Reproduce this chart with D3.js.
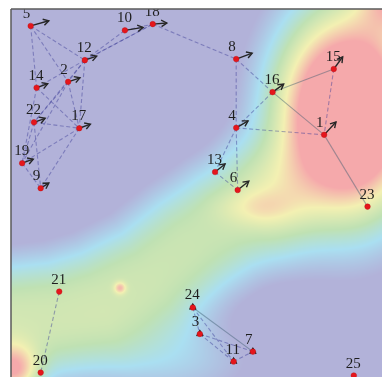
<!DOCTYPE html>
<html>
<head>
<meta charset="utf-8">
<script src="https://cdn.jsdelivr.net/npm/d3@7"></script>
<style>
  html, body { margin: 0; padding: 0; background: #fff; }
  #wrap { position: relative; width: 382px; height: 377px; overflow: hidden; }
  #wrap canvas, #wrap svg { position: absolute; left: 0; top: 0; }
</style>
</head>
<body>
<div id="wrap"></div>
<script>
// ---- nodes (data units, 0..100 on both axes) ----
const nodeIds = [1, 2, 3, 4, 5, 6, 7, 8, 9, 10, 11, 12, 13, 14, 15, 16, 17, 18, 19, 20, 21, 22, 23, 24, 25];
const nodeX   = [84.4, 15.4, 50.9, 60.7, 5.3, 61.1, 65.2, 60.7, 8.0, 30.7, 60.0, 19.9, 55.0, 6.9, 87.0, 70.5, 18.4, 38.2, 3.0, 8.0, 13.0, 6.2, 96.1, 49.0, 92.4];
const nodeY   = [34.2, 19.8, 88.3, 32.3, 4.6, 49.2, 93.1, 13.6, 48.7, 5.8, 95.8, 13.9, 44.3, 21.4, 16.3, 22.6, 32.4, 4.1, 41.9, 98.8, 76.8, 30.8, 53.7, 81.1, 99.6];
// direction vectors drawn as arrows from each node
const vecX    = [3.2, 3.2, 0, 3.2, 4.9, 3.0, 0, 4.3, 2.2, 4.9, 0, 3.2, 2.7, 3.0, 2.4, 3.0, 3.0, 3.8, 3.0, 0, 0, 3.0, 0, 0, 0];
const vecY    = [-3.5, -1.1, -0.9, -1.9, -1.4, -2.4, -0.9, -1.6, -1.4, -0.8, -0.9, -1.1, -2.2, -1.1, -3.3, -2.2, -1.1, -0.3, -1.1, 0, 0, -1.1, 0, -0.9, 0];

// ---- links between nodes ----
const edgeFrom   = [5, 5, 5, 12, 12, 10, 18, 12, 12, 12, 12, 14, 14, 2, 2, 2, 22, 22, 22, 17, 17, 19, 18, 8, 8, 16, 16, 16, 15, 4, 4, 4, 13, 1, 21, 24, 24, 24, 3, 3, 11];
const edgeTo     = [12, 14, 2, 10, 18, 18, 12, 14, 2, 17, 22, 17, 19, 17, 22, 19, 17, 19, 9, 19, 9, 9, 8, 16, 4, 15, 1, 4, 1, 1, 13, 6, 6, 23, 20, 3, 7, 11, 11, 7, 7];
const edgeSolid  = [0, 0, 0, 0, 0, 0, 0, 0, 0, 0, 0, 0, 0, 0, 0, 0, 0, 0, 0, 0, 0, 0, 0, 0, 0, 1, 1, 0, 0, 0, 0, 0, 0, 1, 0, 0, 1, 0, 0, 0, 0];

// ---- density field ----
// point kernels: centres, spreads (data units), weight
const heatX     = [90.8, 104.0, 66.0, 29.4, 0.5, 45.0];
const heatY     = [28.8, -4.0, 54.0, 75.8, 98.5, 96.0];
const heatSx    = [13.5, 7.0, 7.0, 1.1, 4.8, 16.0];
const heatSy    = [19.8, 7.0, 3.5, 1.1, 4.8, 8.0];
const heatW     = [1.3, 0.6, 0.15, 0.3, 0.56, 0.18];
// ridge of high density running from the lower-left corner up to the centre
const ridgeX    = [-5.7, 0.5, 12.9, 24.0, 37.5, 48.2, 57.0, 63.5];
const ridgeY    = [85.1, 84.5, 82.9, 79.6, 72.8, 64.1, 58.0, 54.5];
const ridgeW    = [0.47, 0.47, 0.46, 0.46, 0.45, 0.44, 0.42, 0.4];
const ridgeSigma = 13;
const ridgePower = 2.5;

// colour ramp of the density
const heatStops  = [0.1, 0.25, 0.4, 0.6, 0.8];
const heatColors = ["#b2b2d9", "#aadff1", "#bfe1b3", "#f3f0b2", "#f5a9ab"];

const W = 382, H = 377;
const plot = { left: 11, top: 9, right: 382, bottom: 377 };

const x = d3.scaleLinear().domain([0, 100]).range([plot.left, plot.right]);
const y = d3.scaleLinear().domain([0, 100]).range([plot.top, plot.bottom]);
const color = d3.scaleLinear().domain(heatStops).range(heatColors).clamp(true);

function density(px, py) {
  let v = 0;
  for (let k = 0; k < heatX.length; k++) {
    const u = (px - heatX[k]) / heatSx[k], t = (py - heatY[k]) / heatSy[k];
    v += heatW[k] * Math.exp(-0.5 * (u * u + t * t));
  }
  // nearest point on the ridge polyline
  let best = Infinity, bw = 0;
  for (let s = 0; s < ridgeX.length - 1; s++) {
    const ax = ridgeX[s], ay = ridgeY[s], bx = ridgeX[s + 1], by = ridgeY[s + 1];
    const ex = bx - ax, ey = by - ay;
    let f = ((px - ax) * ex + (py - ay) * ey) / (ex * ex + ey * ey);
    f = Math.max(0, Math.min(1, f));
    const qx = ax + f * ex - px, qy = ay + f * ey - py;
    const d2 = qx * qx + qy * qy;
    if (d2 < best) { best = d2; bw = ridgeW[s] + f * (ridgeW[s + 1] - ridgeW[s]); }
  }
  v += bw * Math.exp(-0.5 * Math.pow(Math.sqrt(best) / ridgeSigma, ridgePower));
  return v;
}

const wrap = d3.select("#wrap");

// ---- density raster ----
const pw = plot.right - plot.left, ph = plot.bottom - plot.top;
const canvas = wrap.append("canvas").attr("width", W).attr("height", H).node();
const ctx = canvas.getContext("2d");
const img = ctx.createImageData(pw, ph);
const lut = d3.range(0, 1001).map(i => d3.rgb(color(i / 1000)));
for (let j = 0; j < ph; j++) {
  const dy = y.invert(plot.top + j + 0.5);
  for (let i = 0; i < pw; i++) {
    const dx = x.invert(plot.left + i + 0.5);
    const v = density(dx, dy);
    const c = lut[Math.max(0, Math.min(1000, Math.round(v * 1000)))];
    const p = (j * pw + i) * 4;
    img.data[p] = c.r; img.data[p + 1] = c.g; img.data[p + 2] = c.b; img.data[p + 3] = 255;
  }
}
ctx.putImageData(img, plot.left, plot.top);

// ---- vector layer ----
const svg = wrap.append("svg").attr("width", W).attr("height", H);
const defs = svg.append("defs");
defs.append("clipPath").attr("id", "plotClip")
  .append("rect").attr("x", plot.left).attr("y", plot.top).attr("width", pw).attr("height", ph);
defs.append("marker")
  .attr("id", "head").attr("markerUnits", "userSpaceOnUse")
  .attr("markerWidth", 10).attr("markerHeight", 10)
  .attr("refX", 6.5).attr("refY", 4).attr("orient", "auto")
  .append("path").attr("d", "M1,0.8 L6.5,4 L1,7.2")
  .attr("fill", "none").attr("stroke", "#262626").attr("stroke-width", 1.4);

const nodes = nodeIds.map((id, i) => ({ id, x: nodeX[i], y: nodeY[i], vx: vecX[i], vy: vecY[i] }));
const byId = new Map(nodes.map(n => [n.id, n]));
const edges = edgeFrom.map((f, i) => ({ a: byId.get(f), b: byId.get(edgeTo[i]), solid: edgeSolid[i] }));

const g = svg.append("g").attr("clip-path", "url(#plotClip)");

g.append("g").selectAll("line").data(edges).join("line")
  .attr("x1", d => x(d.a.x)).attr("y1", d => y(d.a.y))
  .attr("x2", d => x(d.b.x)).attr("y2", d => y(d.b.y))
  .attr("stroke", d => d.solid ? "rgba(60,90,110,0.45)" : "rgba(60,60,150,0.45)")
  .attr("stroke-width", 1.1)
  .attr("stroke-dasharray", d => d.solid ? null : "4,2.5");

g.append("g").selectAll("line").data(nodes.filter(n => n.vx !== 0 || n.vy !== 0)).join("line")
  .attr("x1", d => x(d.x)).attr("y1", d => y(d.y))
  .attr("x2", d => x(d.x + d.vx)).attr("y2", d => y(d.y + d.vy))
  .attr("stroke", "#262626").attr("stroke-width", 1.4)
  .attr("marker-end", "url(#head)");

g.append("g").selectAll("circle").data(nodes).join("circle")
  .attr("cx", d => x(d.x)).attr("cy", d => y(d.y)).attr("r", 2.8)
  .attr("fill", "#e5161c").attr("stroke", "#b81014").attr("stroke-width", 0.4);

g.append("g").selectAll("text").data(nodes).join("text")
  .attr("x", d => x(d.x) - 8).attr("y", d => y(d.y) - 8)
  .attr("font-family", "'Liberation Serif', 'DejaVu Serif', serif")
  .attr("font-size", 15).attr("fill", "#1e1e1e")
  .text(d => d.id);

// frame
svg.append("line").attr("x1", plot.left).attr("y1", plot.top).attr("x2", plot.left).attr("y2", H)
  .attr("stroke", "#5a5a5a").attr("stroke-width", 1.5);
svg.append("line").attr("x1", plot.left).attr("y1", plot.top).attr("x2", W).attr("y2", plot.top)
  .attr("stroke", "#5a5a5a").attr("stroke-width", 1.5);
</script>
</body>
</html>
